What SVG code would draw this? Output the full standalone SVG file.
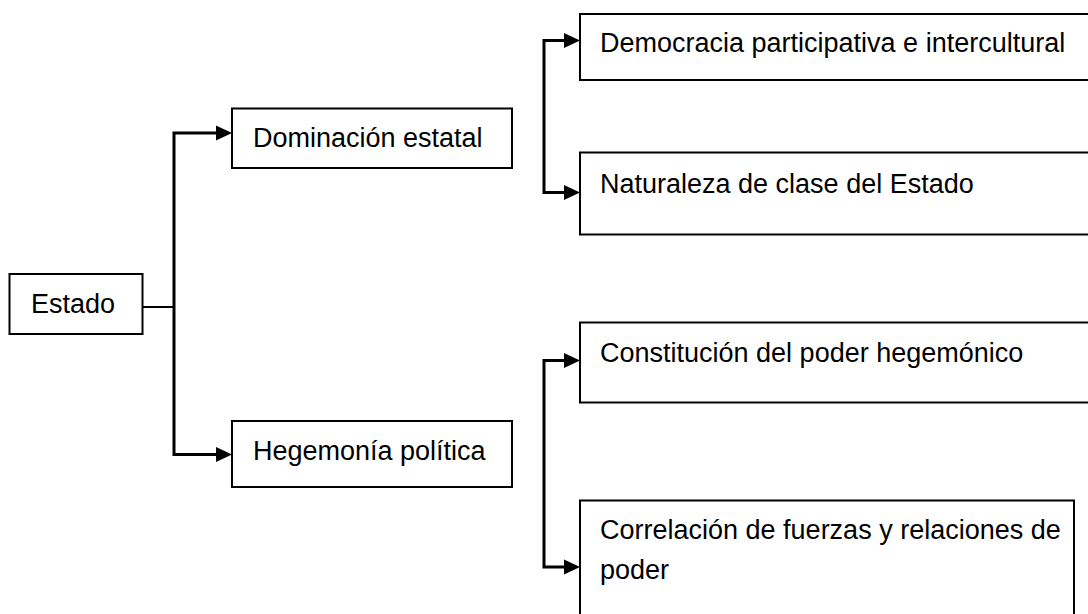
<svg xmlns="http://www.w3.org/2000/svg" width="1088" height="614" viewBox="0 0 1088 614">
  <defs>
    <style>
      .box { fill: #ffffff; stroke: #000000; stroke-width: 2; }
      .lbl { font-family: "Liberation Sans", Arial, sans-serif; font-size: 27px; fill: #000000; }
      .conn { fill: none; stroke: #000000; stroke-width: 3; }
      .thin { fill: none; stroke: #000000; stroke-width: 2; }
    </style>
    <marker id="arrow" markerUnits="userSpaceOnUse" viewBox="0 0 16 16" markerWidth="16" markerHeight="16" refX="16" refY="8" orient="auto">
      <path d="M0,0.5 L16,8 L0,15.5 Z" fill="#000000"/>
    </marker>
  </defs>
  <rect width="1088" height="614" fill="#ffffff"/>

  <g id="connectors">
    <path class="thin" d="M142.7,307 L174,307"/>
    <path class="conn" d="M174,307 L174,133 L218,133"/>
    <path class="conn" d="M174,307 L174,454.5 L218,454.5"/>
    <path class="conn" d="M544,116 L544,40.5 L566,40.5"/>
    <path class="conn" d="M544,116 L544,192.5 L566,192.5"/>
    <path class="conn" d="M544,463 L544,360.5 L566,360.5"/>
    <path class="conn" d="M544,463 L544,567 L566,567"/>
    <polygon points="216,125.5 232,133 216,140.5" fill="#000000"/>
    <polygon points="216,447 232,454.5 216,462" fill="#000000"/>
    <polygon points="564,33 580,40.5 564,48" fill="#000000"/>
    <polygon points="564,185 580,192.5 564,200" fill="#000000"/>
    <polygon points="564,353 580,360.5 564,368" fill="#000000"/>
    <polygon points="564,559.5 580,567 564,574.5" fill="#000000"/>
  </g>

  <g id="node-estado">
    <rect class="box" x="9.5" y="274" width="133" height="60"/>
    <text class="lbl" x="31" y="313">Estado</text>
  </g>
  <g id="node-dominacion">
    <rect class="box" x="232" y="108.5" width="280" height="59.5"/>
    <text class="lbl" x="253" y="147">Dominación estatal</text>
  </g>
  <g id="node-hegemonia">
    <rect class="box" x="232" y="421" width="280" height="66"/>
    <text class="lbl" x="253" y="459.5">Hegemonía política</text>
  </g>
  <g id="node-democracia">
    <rect class="box" x="580" y="14" width="520" height="66"/>
    <text class="lbl" x="600" y="52">Democracia participativa e intercultural</text>
  </g>
  <g id="node-naturaleza">
    <rect class="box" x="580" y="152.5" width="520" height="82"/>
    <text class="lbl" x="600" y="193">Naturaleza de clase del Estado</text>
  </g>
  <g id="node-constitucion">
    <rect class="box" x="580" y="322.5" width="520" height="80"/>
    <text class="lbl" x="600" y="362">Constitución del poder hegemónico</text>
  </g>
  <g id="node-correlacion">
    <rect class="box" x="580" y="500.5" width="494" height="130"/>
    <text class="lbl" x="600" y="538.5">Correlación de fuerzas y relaciones de</text>
    <text class="lbl" x="600" y="578.5">poder</text>
  </g>
</svg>
